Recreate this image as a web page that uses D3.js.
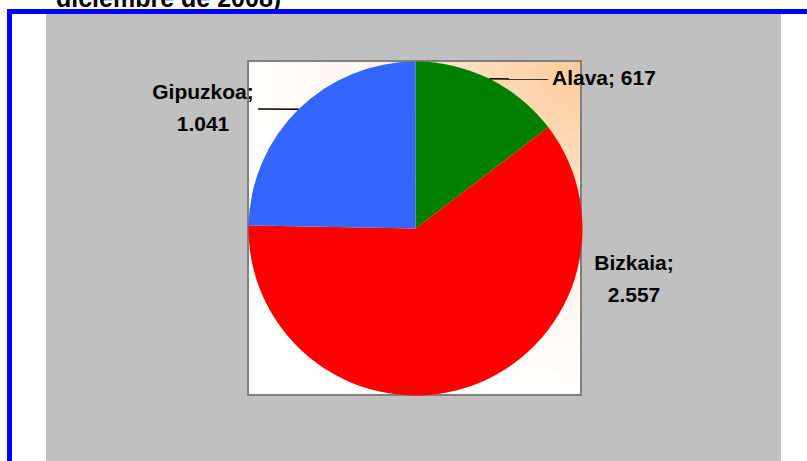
<!DOCTYPE html>
<html>
<head>
<meta charset="utf-8">
<script src="https://cdn.jsdelivr.net/npm/d3@7"></script>
<style>
  body { margin: 0; background: #fff; }
  text { font-family: "Liberation Sans", Arial, sans-serif; font-weight: bold; fill: #000; }
</style>
</head>
<body>
<div id="chart-area"></div>
<script>
// data
var provinces = ["Alava", "Bizkaia", "Gipuzkoa"];
var values = [617, 2557, 1041];
var valueLabels = ["617", "2.557", "1.041"];
var colors = ["#008000", "#FF0000", "#3366FF"];

var w = 807, h = 461;

var svg = d3.select("#chart-area").append("svg")
    .attr("width", w)
    .attr("height", h);

var defs = svg.append("defs");
var grad = defs.append("radialGradient")
    .attr("id", "plotbg")
    .attr("cx", "100%").attr("cy", "0%").attr("r", "100%");
grad.append("stop").attr("offset", "0%").attr("stop-color", "#FFCC99");
grad.append("stop").attr("offset", "30%").attr("stop-color", "#FFDDBB");
grad.append("stop").attr("offset", "65%").attr("stop-color", "#FFF6EE");
grad.append("stop").attr("offset", "100%").attr("stop-color", "#FFFFFF");

// title (cut off at the top)
svg.append("text")
    .attr("x", 56)
    .attr("y", 6.5)
    .attr("font-size", "25px")
    .text("diciembre de 2008)");

// outer frame
svg.append("rect")
    .attr("x", 46).attr("y", 14)
    .attr("width", 735).attr("height", 460)
    .attr("fill", "#C0C0C0");

svg.append("rect")
    .attr("x", 9.5).attr("y", 11.5)
    .attr("width", 830).attr("height", 480)
    .attr("fill", "none")
    .attr("stroke", "#0000FF")
    .attr("stroke-width", 5);

// plot area
var plot = {x: 248, y: 61, width: 333, height: 334};
svg.append("rect")
    .attr("x", plot.x).attr("y", plot.y)
    .attr("width", plot.width).attr("height", plot.height)
    .attr("fill", "url(#plotbg)")
    .attr("stroke", "#808080")
    .attr("stroke-width", 2);

var cx = 415.5, cy = 228.5, r = 167;

var pie = d3.pie().sort(null).value((d) => { return d; });
var arcs = pie(values);

var arc = d3.arc().innerRadius(0).outerRadius(r);
var edge = d3.arc().innerRadius(r).outerRadius(r);

var g = svg.append("g")
    .attr("transform", "translate(" + cx + "," + cy + ")");

g.selectAll("path.slice")
    .data(arcs)
    .enter().append("path")
    .attr("class", "slice")
    .attr("d", arc)
    .attr("fill", (d, i) => { return colors[i]; });

// labels
var labels = [
    {lines: [provinces[0] + "; " + valueLabels[0]], x: 552, y: 84.5, anchor: "start", lx: 548, ly: 79},
    {lines: [provinces[1] + ";", valueLabels[1]], x: 634, y: 270, anchor: "middle"},
    {lines: [provinces[2] + ";", valueLabels[2]], x: 203, y: 99, anchor: "middle", lx: 258, ly: 109}
];

labels.forEach((l, i) => {
    if (l.lx !== undefined) {
        var p = edge.centroid(arcs[i]);
        svg.append("line")
            .attr("x1", cx + p[0]).attr("y1", cy + p[1])
            .attr("x2", l.lx).attr("y2", l.ly)
            .attr("stroke", "#000")
            .attr("stroke-width", 1.5);
    }
    var t = svg.append("text")
        .attr("x", l.x)
        .attr("y", l.y)
        .attr("font-size", "21px")
        .attr("text-anchor", l.anchor);
    l.lines.forEach((s, j) => {
        t.append("tspan")
            .attr("x", l.x)
            .attr("dy", j === 0 ? 0 : 31.5)
            .text(s);
    });
});
</script>
</body>
</html>
